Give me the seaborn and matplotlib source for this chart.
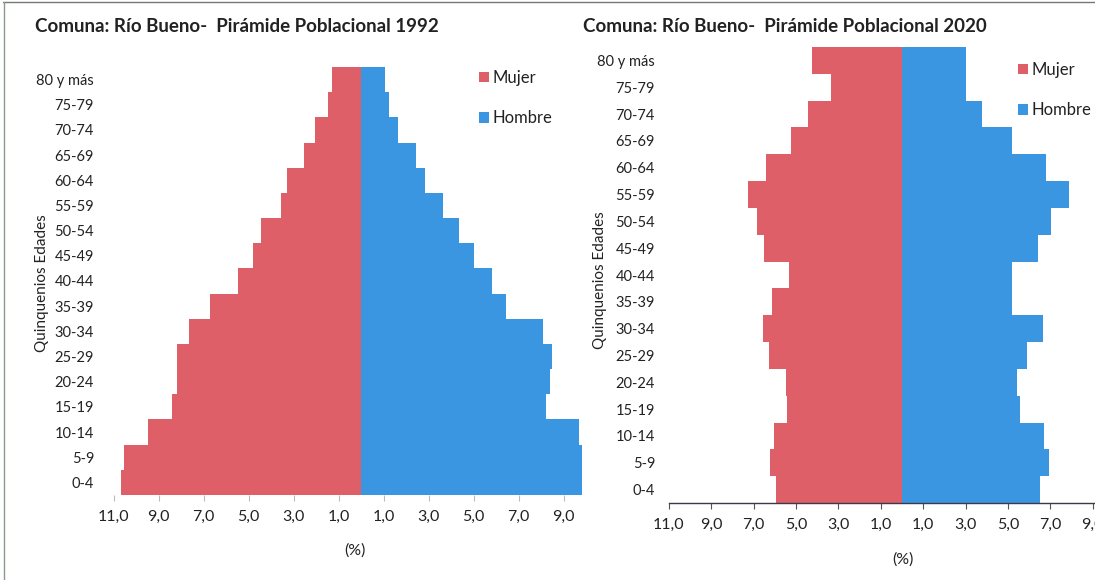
import matplotlib
matplotlib.use("Agg")
import matplotlib.pyplot as plt
import seaborn as sns
import pandas as pd
from matplotlib.ticker import FuncFormatter, FixedLocator
from matplotlib.patches import Patch
from matplotlib.lines import Line2D

# ---------------- data ----------------
age_groups = ["80 y más", "75-79", "70-74", "65-69", "60-64", "55-59", "50-54",
              "45-49", "40-44", "35-39", "30-34", "25-29", "20-24", "15-19",
              "10-14", "5-9", "0-4"]
mujer_1992 = [1.3, 1.45, 2.05, 2.55, 3.3, 3.55, 4.45, 4.8, 5.45, 6.7, 7.65,
              8.2, 8.2, 8.4, 9.45, 10.55, 10.65]
hombre_1992 = [1.05, 1.25, 1.65, 2.45, 2.85, 3.65, 4.35, 5.0, 5.8, 6.45, 8.1,
               8.5, 8.4, 8.2, 9.7, 9.8, 9.8]
mujer_2020 = [4.25, 3.35, 4.45, 5.25, 6.4, 7.25, 6.85, 6.5, 5.35, 6.15, 6.55,
              6.3, 5.5, 5.45, 6.05, 6.25, 5.95]
hombre_2020 = [3.0, 3.0, 3.8, 5.2, 6.8, 7.9, 7.05, 6.4, 5.2, 5.2, 6.65, 5.9,
               5.45, 5.55, 6.7, 6.95, 6.5]
sexes = ["Mujer", "Hombre"]
xtick_values = [-11, -9, -7, -5, -3, -1, 1, 3, 5, 7, 9]
titles = ["Comuna: Río Bueno-  Pirámide Poblacional 1992",
          "Comuna: Río Bueno-  Pirámide Poblacional 2020"]
ylabel_text = "Quinquenios Edades"
xlabel_text = "(%)"

# ---------------- style ----------------
sns.set_style("white")
plt.rcParams["font.family"] = ["Lato", "DejaVu Sans"]
RED = "#DF5F69"
BLUE = "#3B96E2"
TXT = "#222222"
palette = {"Mujer": RED, "Hombre": BLUE}

W, H = 1095, 580
fig = plt.figure(figsize=(W / 100, H / 100), dpi=100)


def px_axes(x0, x1, y0, y1):
    return fig.add_axes([x0 / W, 1 - y1 / H, (x1 - x0) / W, (y1 - y0) / H])


def make_df(muj, hom):
    rows = []
    for a, m, h in zip(age_groups, muj, hom):
        rows.append({"Edad": a, "Sexo": "Mujer", "Valor": -m})
        rows.append({"Edad": a, "Sexo": "Hombre", "Valor": h})
    return pd.DataFrame(rows)


fmt = FuncFormatter(lambda v, p: f"{abs(v):.1f}".replace(".", ","))

panels = [
    dict(muj=mujer_1992, hom=hombre_1992, ax=(113.5, 586, 67, 495), xlim=(-11, 10),
         spine=False, ytpad=14, title_xy=(35, 27), ylab_xy=(42, 283),
         xlab_xy=(355, 551), leg_xy=(479, 70)),
    dict(muj=mujer_2020, hom=hombre_2020, ax=(669, 1135, 47, 503), xlim=(-11, 11),
         spine=True, ytpad=10, title_xy=(583, 27), ylab_xy=(600, 280),
         xlab_xy=(903, 560), leg_xy=(1018, 62)),
]

for i, p in enumerate(panels):
    ax = px_axes(*p["ax"])
    df = make_df(p["muj"], p["hom"])
    sns.barplot(data=df, x="Valor", y="Edad", hue="Sexo", order=age_groups,
                hue_order=sexes, palette=palette, dodge=False, width=1.0,
                orient="h", errorbar=None, saturation=1, linewidth=0,
                legend=False, ax=ax)
    ax.set_xlim(*p["xlim"])
    ax.set_ylim(len(age_groups) - 0.5, -0.5)
    ax.set_xlabel("")
    ax.set_ylabel("")
    ax.xaxis.set_major_locator(FixedLocator(xtick_values))
    ax.xaxis.set_major_formatter(fmt)
    for s in ["top", "right", "left"]:
        ax.spines[s].set_visible(False)
    if p["spine"]:
        ax.spines["bottom"].set_color("#3a3a4a")
        ax.spines["bottom"].set_linewidth(1.0)
        tcol = "#555555"
    else:
        ax.spines["bottom"].set_visible(False)
        tcol = "#bbbbbb"
    ax.tick_params(axis="x", length=4, width=0.8, color=tcol, pad=7,
                   labelsize=11.5, labelcolor=TXT, bottom=True)
    ax.tick_params(axis="y", length=0, pad=p["ytpad"], labelsize=10.5,
                   labelcolor=TXT, left=False)
    ax.set_facecolor("none")

    fig.text(p["title_xy"][0] / W, 1 - p["title_xy"][1] / H, titles[i],
             ha="left", va="center", fontsize=13.5, fontweight="bold", color=TXT)
    fig.text(p["ylab_xy"][0] / W, 1 - p["ylab_xy"][1] / H, ylabel_text,
             ha="center", va="center", rotation=90, fontsize=11, color=TXT)
    fig.text(p["xlab_xy"][0] / W, 1 - p["xlab_xy"][1] / H, xlabel_text,
             ha="center", va="center", fontsize=11.5, color=TXT)

    handles = [Patch(facecolor=palette[s], edgecolor="none", label=s) for s in sexes]
    fig.legend(handles=handles, loc="upper left",
               bbox_to_anchor=(p["leg_xy"][0] / W, 1 - p["leg_xy"][1] / H),
               bbox_transform=fig.transFigure, frameon=False, fontsize=12,
               handlelength=0.6, handleheight=0.6, handletextpad=0.2,
               labelspacing=1.45, borderpad=0, borderaxespad=0,
               labelcolor=TXT)

# thin frame lines of the scanned chart box
fig.add_artist(Line2D([3 / W, 1], [1 - 2 / H, 1 - 2 / H], transform=fig.transFigure,
                      color="#777777", lw=1))
fig.add_artist(Line2D([4 / W, 4 / W], [0, 1 - 2 / H], transform=fig.transFigure,
                      color="#8a9a8a", lw=1))

fig.savefig("out.png", dpi=100)
